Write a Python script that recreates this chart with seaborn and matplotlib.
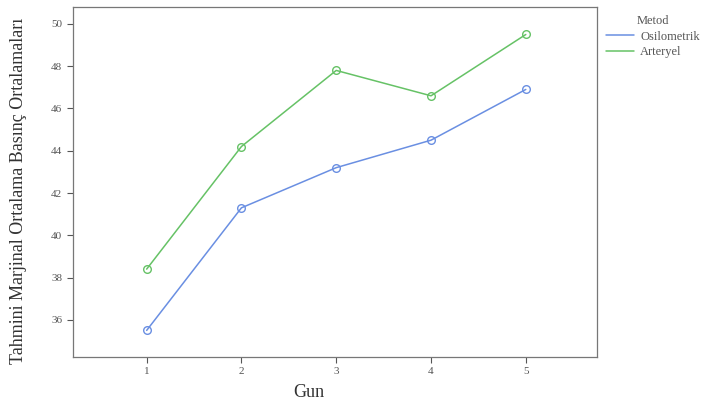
import matplotlib
matplotlib.use("Agg")
import matplotlib.pyplot as plt
import seaborn as sns
import pandas as pd
from matplotlib.lines import Line2D

gun = [1, 2, 3, 4, 5]
osilometrik = [35.5, 41.3, 43.2, 44.5, 46.9]
arteryel = [38.4, 44.2, 47.8, 46.6, 49.5]
yticks = [36, 38, 40, 42, 44, 46, 48, 50]

df = pd.DataFrame({
    "Gun": gun * 2,
    "Deger": osilometrik + arteryel,
    "Metod": ["Osilometrik"] * 5 + ["Arteryel"] * 5,
})

sns.set_style("white")
plt.rcParams["font.family"] = ["Liberation Serif", "DejaVu Serif"]

fig = plt.figure(figsize=(7.2, 4.13), dpi=100)
ax = fig.add_axes([0.101, 0.136, 0.728, 0.847])
palette = {"Osilometrik": "#6a8fe2", "Arteryel": "#66c266"}
sns.lineplot(data=df, x="Gun", y="Deger", hue="Metod", palette=palette,
             marker="o", markersize=5.5, markerfacecolor="none",
             markeredgewidth=1.0, linewidth=1.1, ax=ax, legend=False)
for line in ax.lines:
    line.set_markeredgecolor(line.get_color())

ax.set_xlim(0.22, 5.75)
ax.set_ylim(34.25, 50.8)
ax.set_xticks(gun)
ax.set_yticks(yticks)
ax.tick_params(axis="both", labelsize=8, colors="#555555", length=4, width=0.8,
               direction="out", bottom=True, left=True)
for sp in ax.spines.values():
    sp.set_color("#777777")
    sp.set_linewidth(0.9)
ax.set_xlabel("Gun", fontsize=13, color="#333333")
ax.set_ylabel("Tahmini Marjinal Ortalama Basınç Ortalamaları", fontsize=13, color="#333333")
ax.yaxis.set_label_coords(-0.087, 0.475)
ax.xaxis.set_label_coords(0.45, -0.078)

handles = [Line2D([], [], color=palette["Osilometrik"], lw=1.1),
           Line2D([], [], color=palette["Arteryel"], lw=1.1)]
leg = fig.legend(handles, ["Osilometrik", "Arteryel"], title="Metod",
                 loc="upper left", bbox_to_anchor=(0.83, 0.985), frameon=False,
                 fontsize=9, title_fontsize=9, handlelength=2.2, labelspacing=0.3,
                 handletextpad=0.5, borderpad=0.2)
for t in leg.get_texts():
    t.set_color("#555555")
leg.get_title().set_color("#555555")

fig.savefig("out.png", dpi=100)
